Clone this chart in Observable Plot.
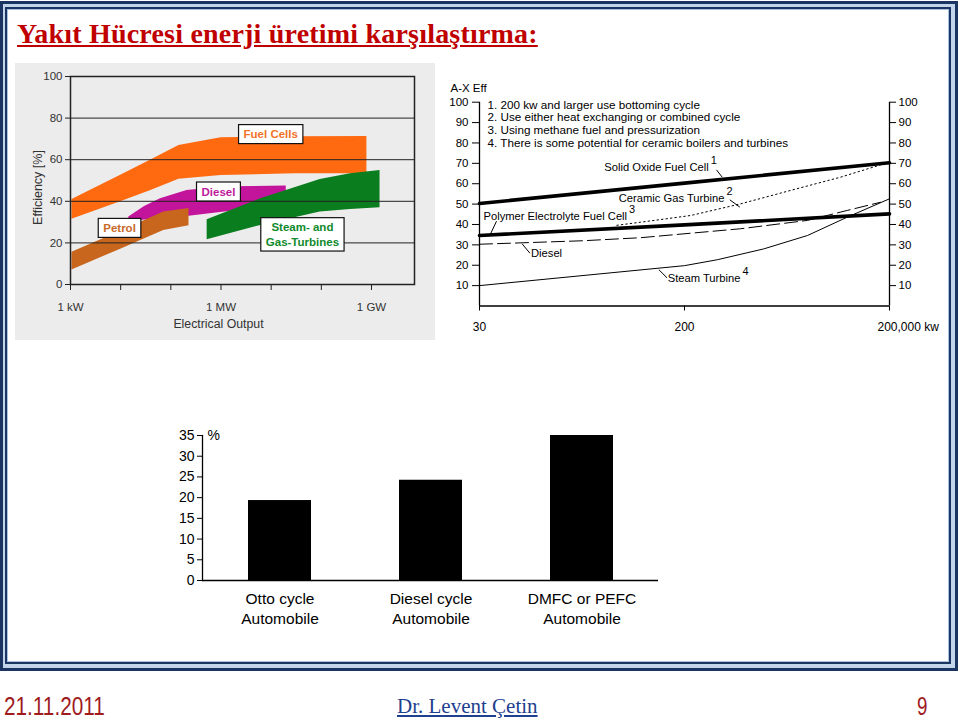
<!DOCTYPE html>
<html><head><meta charset="utf-8">
<script src="https://cdn.jsdelivr.net/npm/d3@7"></script>
<script src="https://cdn.jsdelivr.net/npm/@observablehq/plot@0.6"></script>
<style>
body{margin:0;background:#fff;}
#page{position:relative;width:960px;height:720px;overflow:hidden;font-family:"Liberation Sans",Arial,sans-serif;}
.abs{position:absolute;}
#outer{left:0;top:1px;width:952px;height:664px;border:3px solid #1b3562;background:#c3d5ea;}
#inner{left:5px;top:7px;width:942px;height:653px;border:2px solid #1b3562;background:#fff;box-shadow:inset 0 0 0 1px #a9c2e0;}
#title{left:17px;top:19.5px;font:bold 28px/1 "Liberation Serif","Times New Roman",serif;letter-spacing:0.2px;color:#c00000;text-decoration:underline;white-space:nowrap;}
#date{left:4px;top:694px;font:25px/1 "Liberation Sans",Arial,sans-serif;color:#9e1b1e;transform:scaleX(0.83);transform-origin:0 0;white-space:nowrap;}
#author{left:397px;top:696px;font:21px/1 "Liberation Serif","Times New Roman",serif;color:#1f3f8f;text-decoration:underline;white-space:nowrap;}
#pnum{left:917px;top:694px;font:25px/1 "Liberation Sans",Arial,sans-serif;color:#9e1b1e;transform:scaleX(0.75);transform-origin:0 0;}
#chartA{left:15px;top:63px;}
#chartB{left:440px;top:75px;}
#chartC{left:160px;top:415px;}
</style>
</head><body>
<div id="page">
  <div id="outer" class="abs"></div>
  <div id="inner" class="abs"></div>
  <div id="title" class="abs">Yakıt Hücresi enerji üretimi karşılaştırma:</div>
  <div id="chartA" class="abs"></div>
  <div id="chartB" class="abs"></div>
  <div id="chartC" class="abs"></div>
  <div id="date" class="abs">21.11.2011</div>
  <div id="author" class="abs">Dr. Levent Çetin</div>
  <div id="pnum" class="abs">9</div>
</div>
<script>
// ---------- Chart A: efficiency bands vs electrical output ----------
const fcX  = [1.07e3, 1e4, 4e4, 1.45e5, 1e6, 3e7, 8.1e8];
const fcHi = [40.9, 52.5, 59.9, 66.8, 70.5, 71, 71.2];
const fcLo = [31.4, 39.8, 45.2, 50.6, 52.4, 53.2, 53.2];
const petX  = [1.07e3, 1e4, 7.2e4, 2.3e5];
const petHi = [15.5, 25.6, 34.8, 36.5];
const petLo = [7, 17, 26, 28.2];
const dieX  = [1.45e4, 3e4, 6.2e4, 2.1e5, 1.3e6, 2e7];
const dieHi = [32.4, 37.5, 41.2, 45.2, 47, 47.3];
const dieLo = [30, 31, 31.5, 32.7, 35, 38.5];
const stX  = [5.3e5, 6.2e6, 9.5e7, 3.8e8, 1.48e9];
const stHi = [31.1, 41.2, 50.5, 53.2, 54.8];
const stLo = [21.5, 28.4, 34.8, 36.1, 36.9];
const bandColors = ["#ff6a10", "#c3149c", "#c8661e", "#0a7d1e"]; // fuel, diesel, petrol, steam
const bandLabels = ["Fuel Cells", "Diesel", "Petrol", "Steam- and\nGas-Turbines"];
const bandLabelX = [9.8e6, 8.9e5, 9.5e3, 4.2e7];
const bandLabelY = [72.6, 45, 27.5, 24.4];
const bandTextColors = ["#f0732a", "#c0189a", "#c86a2a", "#108a2c"];
const aYTicks = [0, 20, 40, 60, 80, 100];
const aGrid = [20, 40, 60, 80];
const aXTicks = [1e3, 1e4, 1e5, 1e6, 1e7, 1e8, 1e9];
const aXTickNames = {1000: "1 kW", 1000000: "1 MW", 1000000000: "1 GW"};

// ---------- Chart B: efficiency lines ----------
const bXTicks = [0, 1, 2];
const bXTickLabels = ["30", "200", "200,000 kw"];
const bYTicks = [10, 20, 30, 40, 50, 60, 70, 80, 90, 100];
const sofcT = [0, 1, 2];
const sofcV = [50.3, 60.3, 70.3];
const pefcT = [0, 1, 2];
const pefcV = [34.6, 39.8, 45.2];
const cgtT = [0.67, 0.785, 1.03, 1.273, 1.517, 1.761, 2];
const cgtV = [39.6, 41.1, 44.4, 50.1, 56.7, 63.2, 70.6];
const dslT = [0, 0.5, 0.785, 1.273, 1.6, 1.794, 1.956];
const dslV = [30.3, 32, 33.5, 37.9, 42, 46.9, 50.9];
const stmT = [0, 0.5, 1, 1.16, 1.386, 1.6, 1.794, 2];
const stmV = [10, 14.9, 19.8, 22.7, 28, 34.6, 43.6, 52.6];
const lineLabels = ["Solid Oxide Fuel Cell", "Ceramic Gas Turbine", "Polymer Electrolyte Fuel Cell", "Diesel", "Steam Turbine"];
const lineLabelT = [1.118, 1.195, 0.72, 0.403, 1.273];
const lineLabelV = [67.8, 52.6, 44.1, 25.6, 13.3];
const lineLabelSup = ["1", "2", "3", "", "4"];
const leaderT1 = [1.156, 1.221, 0.083, 0.208, 0.875];
const leaderV1 = [66.8, 52.1, 41.6, 30.5, 17.8];
const leaderT2 = [1.184, 1.27, 0.054, 0.246, 0.915];
const leaderV2 = [63.2, 48.5, 35.4, 25.9, 13.8];
const notes = [
  "1. 200 kw and larger use bottoming cycle",
  "2. Use either heat exchanging or combined cycle",
  "3. Using methane fuel and pressurization",
  "4. There is some potential for ceramic boilers and turbines"
];

// ---------- Chart C: automobile efficiency bars ----------
const carCats = ["Otto cycle\nAutomobile", "Diesel cycle\nAutomobile", "DMFC or PEFC\nAutomobile"];
const carVals = [19.3, 24.2, 35];
const cYTicks = [0, 5, 10, 15, 20, 25, 30, 35];

const FONT = "Liberation Sans, Arial, sans-serif";
const band = (xs, lo, hi) => xs.map((x, i) => ({x, lo: lo[i], hi: hi[i]}));
const series = (ts, vs) => ts.map((t, i) => ({t, v: vs[i]}));

function addBoxes(svg, cls, padX, padY) {
  svg.querySelectorAll("g." + cls + " text").forEach(t => {
    const b = t.getBBox();
    const r = document.createElementNS("http://www.w3.org/2000/svg", "rect");
    r.setAttribute("x", b.x - padX);
    r.setAttribute("y", b.y - padY);
    r.setAttribute("width", b.width + 2 * padX);
    r.setAttribute("height", b.height + 2 * padY);
    r.setAttribute("fill", "#fff");
    r.setAttribute("stroke", "#111");
    r.setAttribute("stroke-width", "1.2");
    const tr = t.getAttribute("transform");
    if (tr) r.setAttribute("transform", tr);
    t.parentNode.insertBefore(r, t);
  });
}

// Chart A
const labelsA = bandLabels.map((text, i) => ({text, x: bandLabelX[i], y: bandLabelY[i], c: bandTextColors[i]}));
const chartA = Plot.plot({
  width: 420, height: 277,
  marginLeft: 55, marginTop: 13, marginRight: 21, marginBottom: 56,
  style: {background: "#ececec", fontFamily: FONT, fontSize: "11.5px", color: "#333"},
  x: {type: "log", domain: [1e3, 7.2e9]},
  y: {domain: [0, 100]},
  color: {type: "identity"},
  marks: [
    Plot.areaY(band(fcX, fcLo, fcHi), {x: "x", y1: "lo", y2: "hi", fill: bandColors[0]}),
    Plot.areaY(band(dieX, dieLo, dieHi), {x: "x", y1: "lo", y2: "hi", fill: bandColors[1]}),
    Plot.areaY(band(petX, petLo, petHi), {x: "x", y1: "lo", y2: "hi", fill: bandColors[2]}),
    Plot.areaY(band(stX, stLo, stHi), {x: "x", y1: "lo", y2: "hi", fill: bandColors[3]}),
    Plot.ruleY(aGrid, {stroke: "#222", strokeWidth: 1}),
    Plot.frame({stroke: "#222", strokeWidth: 1.5}),
    Plot.axisY({ticks: aYTicks, tickSize: 5, tickPadding: 3, label: null, stroke: "#222"}),
    Plot.axisX({ticks: aXTicks, tickSize: 6, tickPadding: 12, label: null, stroke: "#222",
      tickFormat: d => aXTickNames[Math.round(d)] ?? ""}),
    Plot.text(["Efficiency [%]"], {frameAnchor: "left", rotate: -90, textAnchor: "middle", lineAnchor: "middle", dx: -33, dy: 7, fontSize: 12.5}),
    Plot.text(["Electrical Output"], {frameAnchor: "bottom", dx: -24, dy: 43, fontSize: 12.3}),
    Plot.text(labelsA, {x: "x", y: "y", text: "text", fill: "c", fontWeight: "bold", fontSize: 11.5,
      lineHeight: 1.25, className: "boxlbl"})
  ]
});
document.getElementById("chartA").appendChild(chartA);
addBoxes(chartA, "boxlbl", 5, 3.5);

// Chart B
const labB = lineLabels.map((text, i) => ({text, t: lineLabelT[i], v: lineLabelV[i], sup: lineLabelSup[i]}));
const leadB = leaderT1.map((t1, i) => ({t1, v1: leaderV1[i], t2: leaderT2[i], v2: leaderV2[i]}));
const chartB = Plot.plot({
  width: 505, height: 265,
  marginLeft: 39, marginRight: 56, marginTop: 26.7, marginBottom: 34.5,
  style: {background: "transparent", fontFamily: FONT, fontSize: "11.5px", color: "#000"},
  x: {domain: [0, 2]},
  y: {domain: [0, 100]},
  marks: [
    Plot.ruleY([0], {strokeWidth: 1.3}),
    Plot.ruleX([0, 2], {y1: 0, y2: 100, strokeWidth: 1.3}),
    Plot.axisY({ticks: bYTicks, anchor: "left", tickSize: 7, tickPadding: 4, label: null}),
    Plot.axisY({ticks: bYTicks, anchor: "right", tickSize: 6, tickPadding: 3, label: null}),
    Plot.axisX({ticks: bXTicks, tickSize: 5, tickFormat: () => "", label: null}),
    Plot.text(bXTicks.slice(0, 2), {x: d => d, text: bXTickLabels.slice(0, 2), frameAnchor: "bottom", lineAnchor: "middle", dy: 21.5, fontSize: 12}),
    Plot.text([bXTicks[2]], {x: d => d, text: [bXTickLabels[2]], frameAnchor: "bottom", lineAnchor: "middle", textAnchor: "start", dx: -12, dy: 21.5, fontSize: 12}),
    Plot.text(["A-X Eff"], {frameAnchor: "top-left", lineAnchor: "middle", textAnchor: "start", dx: -29, dy: -14, fontSize: 11.5}),
    Plot.text([notes.join("\n")], {frameAnchor: "top-left", textAnchor: "start", lineAnchor: "top", dx: 8, dy: -2.5, lineHeight: 1.09, fontSize: 11.7}),
    Plot.line(series(stmT, stmV), {x: "t", y: "v", strokeWidth: 1}),
    Plot.line(series(dslT, dslV), {x: "t", y: "v", strokeWidth: 1, strokeDasharray: "13,5"}),
    Plot.line(series(cgtT, cgtV), {x: "t", y: "v", strokeWidth: 1, strokeDasharray: "1.5,3"}),
    Plot.line(series(pefcT, pefcV), {x: "t", y: "v", strokeWidth: 3.6}),
    Plot.line(series(sofcT, sofcV), {x: "t", y: "v", strokeWidth: 3.6}),
    Plot.link(leadB, {x1: "t1", y1: "v1", x2: "t2", y2: "v2", strokeWidth: 1}),
    Plot.text(labB, {x: "t", y: "v", text: "text", textAnchor: "end", fontSize: 11.2}),
    Plot.text(labB, {x: "t", y: "v", text: "sup", textAnchor: "start", dx: 2, dy: -7, fontSize: 11})
  ]
});
document.getElementById("chartB").appendChild(chartB);

// Chart C
const chartC = Plot.plot({
  width: 520, height: 220,
  marginLeft: 42, marginRight: 22, marginTop: 20, marginBottom: 55,
  style: {background: "transparent", fontFamily: FONT, fontSize: "14px", color: "#000"},
  x: {domain: carCats, paddingInner: 0.5855, paddingOuter: 0.2928},
  y: {domain: [0, 35]},
  marks: [
    Plot.barY(carVals, {x: carCats, y: d => d, fill: "#000"}),
    Plot.ruleY([0], {strokeWidth: 1.3}),
    Plot.frame({anchor: "left", strokeWidth: 1.3}),
    Plot.axisY({ticks: cYTicks, tickSize: 5, tickPadding: 3, label: null, fontSize: 14}),
    Plot.axisX({tickSize: 0, tickPadding: 9, label: null, fontSize: 15.5, lineHeight: 1.29}),
    Plot.text(["%"], {frameAnchor: "top-left", lineAnchor: "middle", textAnchor: "start", dx: 5, fontSize: 14})
  ]
});
document.getElementById("chartC").appendChild(chartC);
</script>
</body></html>
